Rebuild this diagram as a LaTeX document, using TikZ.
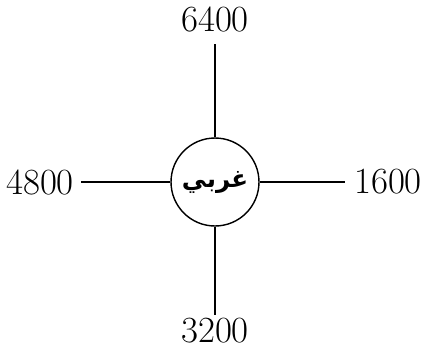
\documentclass[tikz,border=0pt]{standalone}
\usepackage{fontspec}
\newfontfamily\arabicfont[Script=Arabic]{DejaVu Sans}
\TeXXeTstate=1
\usepackage{tikz}
\usetikzlibrary{positioning}

\begin{document}
\begin{tikzpicture}[x=0.02cm, y=-0.02cm,
  hub/.style={draw, circle, line width=0.8pt, minimum size=1.76cm, inner sep=0pt,
              font=\arabicfont\bfseries\fontsize{14}{17}\selectfont},
  num/.style={inner sep=0pt, font=\fontsize{21}{24}\selectfont},
  spoke/.style={line width=0.75pt}
]
\useasboundingbox (0,0) rectangle (422,353);
\node[hub] (center) at (215,182) {\beginR غربي\endR};

\node[num] (north) at (215,19)  {6400};
\node[num] (south) at (215,331) {3200};
\node[num] (west)  at (40,182)  {4800};
\node[num] (east)  at (388,182) {1600};

\draw[spoke, shorten >=7pt] (center) -- (north);
\draw[spoke, shorten >=2pt] (center) -- (south);
\draw[spoke, shorten >=4pt] (center) -- (west);
\draw[spoke, shorten >=5pt] (center) -- (east);
\end{tikzpicture}
\end{document}
